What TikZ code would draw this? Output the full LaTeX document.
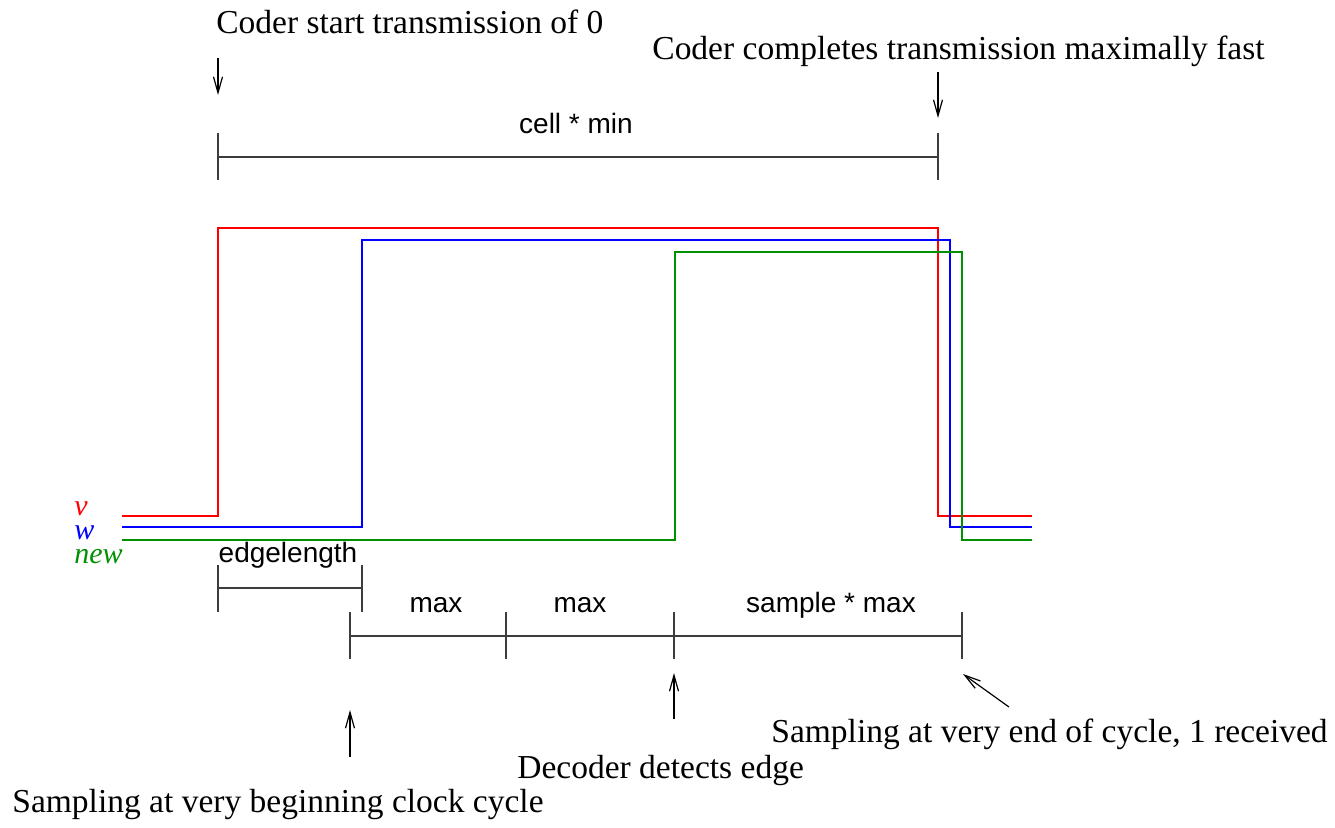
\documentclass[tikz,border=0pt]{standalone}
\usepackage{fontspec}
\setmainfont{Liberation Serif}
\setsansfont{Liberation Sans}
\usetikzlibrary{arrows.meta}
\definecolor{sigred}{RGB}{255,0,0}
\definecolor{sigblue}{RGB}{0,0,255}
\definecolor{siggreen}{RGB}{0,144,0}
\definecolor{dimgray}{RGB}{60,60,60}
\begin{document}
\begin{tikzpicture}[x=0.5pt,y=-0.5pt,
  sig/.style={line width=1.3pt,line join=miter},
  dimline/.style={draw=dimgray,line width=0.6pt},
  callout/.style={draw=black,line width=0.6pt,-{Straight Barb[length=8pt,width=4.5pt]}},
  serif/.style={inner sep=0pt,font=\fontsize{16.75}{20}\selectfont},
  sans/.style={inner sep=0pt,font=\sffamily\fontsize{14}{17}\selectfont},
  siglabel/.style={inner sep=0pt,anchor=base west,font=\itshape\fontsize{15}{18}\selectfont}]
\useasboundingbox (0,0) rectangle (1335,827);

% signals
\draw[sig,sigred]   (122,516) -- (218,516) -- (218,228) -- (938,228) -- (938,516) -- (1032,516);
\draw[sig,sigblue]  (122,527) -- (362,527) -- (362,240) -- (950,240) -- (950,527) -- (1032,527);
\draw[sig,siggreen] (122,540) -- (675,540) -- (675,252) -- (962,252) -- (962,540) -- (1032,540);

\node[siglabel,text=sigred]   (lv) at (74,515) {v};
\node[siglabel,text=sigblue]  (lw) at (74,539) {w};
\node[siglabel,text=siggreen] (ln) at (74,563) {new};

% top dimension
\coordinate (t1) at (218,157);
\coordinate (t2) at (938,157);
\draw[dimline] (t1) -- (t2);
\draw[dimline] (218,133) -- (218,180);
\draw[dimline] (938,133) -- (938,180);
\node[sans,anchor=base] (cellmin) at (576,133) {cell * min};

% edgelength dimension
\coordinate (e1) at (218,588);
\coordinate (e2) at (362,588);
\draw[dimline] (e1) -- (e2);
\draw[dimline] (218,565) -- (218,612);
\draw[dimline] (362,565) -- (362,612);
\node[sans,anchor=base] (edgelen) at (288,562) {edgelength};

% bottom dimension
\coordinate (b1) at (350,636);
\coordinate (b2) at (506,636);
\coordinate (b3) at (674,636);
\coordinate (b4) at (962,636);
\draw[dimline] (b1) -- (b2) -- (b3) -- (b4);
\foreach \x in {350,506,674,962} \draw[dimline] (\x,612) -- (\x,659);
\node[sans,anchor=base] (max1) at (436,612) {max};
\node[sans,anchor=base] (max2) at (580,612) {max};
\node[sans,anchor=base] (smax) at (831,612) {sample * max};

% annotation texts
\node[serif,anchor=base west] (tstart) at (216,33) {Coder start transmission of 0};
\node[serif,anchor=base west] (tcomp) at (652,59) {Coder completes transmission maximally fast};
\node[serif,anchor=base west] (tend) at (771,742) {Sampling at very end of cycle, 1 received};
\node[serif,anchor=base west] (tdec) at (517,778) {Decoder detects edge};
\node[serif,anchor=base west] (tbeg) at (12,812) {Sampling at very beginning clock cycle};

% callout arrows
\coordinate (a1s) at (218,58);  \coordinate (a1e) at (218,95);
\coordinate (a2s) at (938,72);  \coordinate (a2e) at (938,118);
\coordinate (a3s) at (350,757); \coordinate (a3e) at (350,710);
\coordinate (a4s) at (674,719); \coordinate (a4e) at (674,673);
\coordinate (a5s) at (1009,707); \coordinate (a5e) at (963,674);
\draw[callout] (a1s) -- (a1e);
\draw[callout] (a2s) -- (a2e);
\draw[callout] (a3s) -- (a3e);
\draw[callout] (a4s) -- (a4e);
\draw[callout] (a5s) -- (a5e);
\end{tikzpicture}
\end{document}
